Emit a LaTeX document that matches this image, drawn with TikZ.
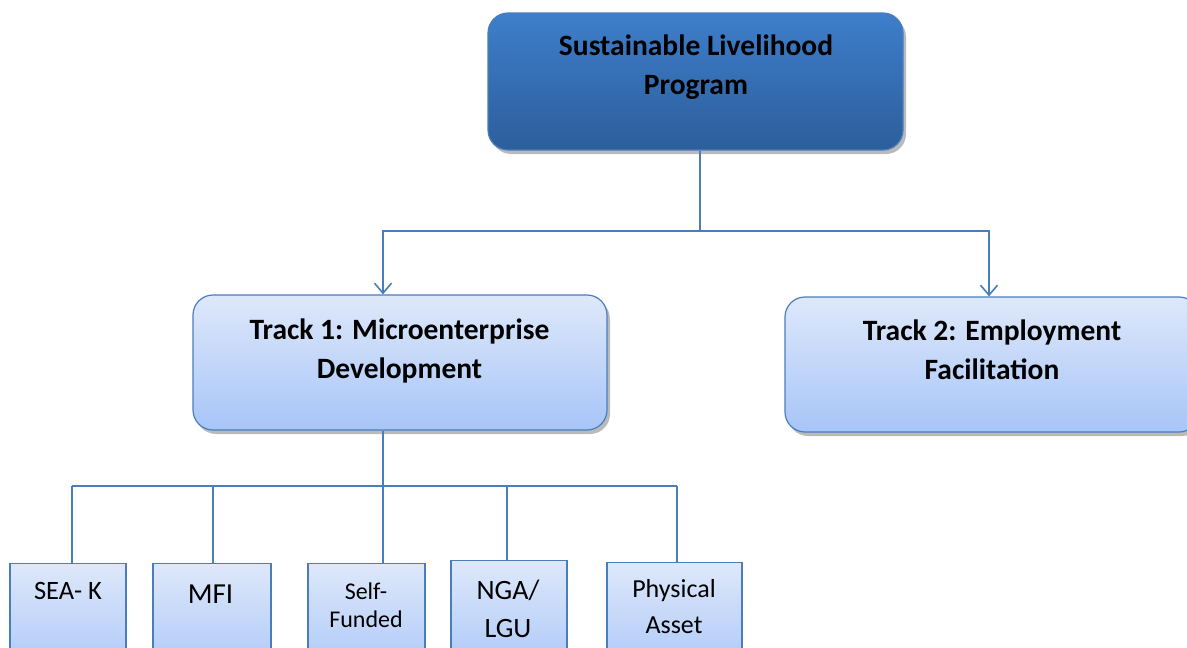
\documentclass[tikz,border=0pt]{standalone}
\usepackage{fontspec}
\setmainfont{Carlito}
\usetikzlibrary{positioning,shadows,arrows.meta}

\definecolor{lineblue}{RGB}{74,126,187}
\definecolor{darktop}{RGB}{62,126,203}
\definecolor{darkbot}{RGB}{44,94,155}
\definecolor{lighttop}{RGB}{222,232,250}
\definecolor{lightbot}{RGB}{167,197,248}

\tikzset{
  topbox/.style={draw=lineblue, line width=1.2pt, rounded corners=20pt,
    top color=darktop, bottom color=darkbot,
    drop shadow={shadow xshift=3pt, shadow yshift=-4pt, opacity=0.45, fill=black!60},
    minimum width=415pt, minimum height=137pt},
  trackbox/.style={draw=lineblue, line width=1.2pt, rounded corners=20pt,
    top color=lighttop, bottom color=lightbot,
    drop shadow={shadow xshift=3pt, shadow yshift=-4pt, opacity=0.45, fill=black!60},
    minimum width=414pt, minimum height=135pt},
  boxtext/.style={align=center, anchor=base, inner sep=0pt,
    font=\bfseries\fontsize{29.5}{38.5}\selectfont},
  fundbox/.style={draw=lineblue, line width=1.2pt,
    top color=lighttop, bottom color=lightbot,
    minimum width=117pt, minimum height=120pt, anchor=north},
  fundtext/.style={align=center, anchor=base, inner sep=0pt},
  conn/.style={draw=lineblue, line width=1.6pt},
  arr/.style={conn, -{Straight Barb[length=10pt,width=17pt]}}
}

\begin{document}
\begin{tikzpicture}[x=1pt, y=-1pt]
  \useasboundingbox (0,0) rectangle (1187,648);
  \clip (0,0) rectangle (1187,648);

  % obere Ebene
  \node[topbox] (slp) at (695.5,81.5) {};
  \node[boxtext] (slptext) at (696,94) {Sustainable Livelihood\\Program};

  % zwei Tracks
  \node[trackbox] (track1) at (400,362.5) {};
  \node[boxtext] (track1text) at (399.5,378) {Track 1: Microenterprise\\Development};
  \node[trackbox] (track2) at (992,364.5) {};
  \node[boxtext] (track2text) at (992,379) {Track 2: Employment\\Facilitation};

  \coordinate (jtop) at (700,231);
  \draw[conn] (slp.south -| jtop) -- (jtop);
  \draw[arr] (jtop) -| ([xshift=-17pt]track1.north);
  \draw[arr] (jtop) -| ([xshift=-3pt]track2.north);

  % Finanzierungsarten
  \node[fundbox, minimum width=116pt] (seak) at (68,563) {};
  \node[fundbox, minimum width=118pt] (mfi) at (212,563) {};
  \node[fundbox] (self) at (366.5,563) {};
  \node[fundbox, minimum width=116pt] (nga) at (509,560) {};
  \node[fundbox, minimum width=135pt] (asset) at (674.5,562) {};

  \node[fundtext, font=\fontsize{26.5}{36}\selectfont] (seaktext) at (68,599) {SEA- K};
  \node[fundtext, font=\fontsize{29}{36}\selectfont] (mfitext) at (210.5,603) {MFI};
  \node[fundtext, font=\fontsize{24}{28}\selectfont] (selftext) at (366,627) {Self-\\Funded};
  \node[fundtext, font=\fontsize{28}{38}\selectfont] (ngatext) at (508,637) {NGA/\\LGU};
  \node[fundtext, font=\fontsize{26}{36}\selectfont] (assettext) at (674,633) {Physical\\Asset};

  \coordinate (jbot) at (383,486);
  \coordinate (bl) at (72,486);
  \coordinate (br) at (677,486);
  \draw[conn] ([xshift=-17pt]track1.south) -- (jbot);
  \draw[conn] (bl) -- (br);
  \draw[conn] (bl) -- ([xshift=4pt]seak.north);
  \draw[conn] ([xshift=1pt]mfi.north |- bl) -- ([xshift=1pt]mfi.north);
  \draw[conn] (jbot) -- ([xshift=16.5pt]self.north);
  \draw[conn] ([xshift=-2pt]nga.north |- bl) -- ([xshift=-2pt]nga.north);
  \draw[conn] (br) -- ([xshift=2.5pt]asset.north);
\end{tikzpicture}
\end{document}
